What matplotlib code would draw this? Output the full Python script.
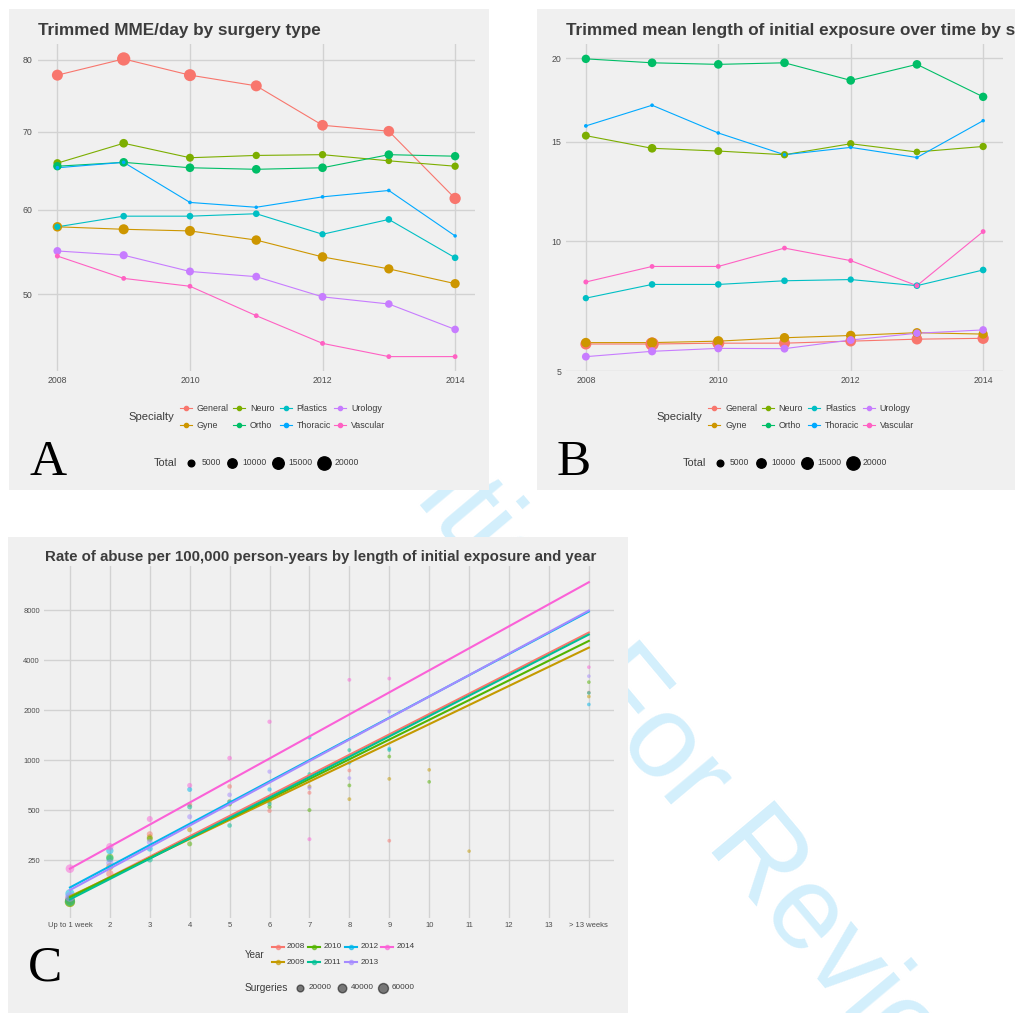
import matplotlib
matplotlib.use("Agg")
import matplotlib.pyplot as plt
from matplotlib.lines import Line2D
from matplotlib.patches import Rectangle
import numpy as np

W, H = 1015, 1013
BG = "#F0F0F0"
GRID = "#D2D2D2"
TXT = "#3C3C3C"
SANS = "Liberation Sans"

# ---- panels A and B: by specialty and year
years = [2008, 2009, 2010, 2011, 2012, 2013, 2014]
specialties = ["General", "Gyne", "Neuro", "Ortho", "Plastics", "Thoracic", "Urology", "Vascular"]
spec_colors = ["#F8766D", "#CD9600", "#7CAE00", "#00BE67", "#00BFC4", "#00A9FF", "#C77CFF", "#FF61C3"]

mme_general = [77.8, 80.1, 77.8, 76.3, 70.9, 70.1, 61.4]
mme_gyne = [57.9, 57.6, 57.4, 56.3, 54.3, 52.9, 51.2]
mme_neuro = [65.9, 68.5, 66.6, 66.9, 67.0, 66.2, 65.5]
mme_ortho = [65.5, 66.0, 65.3, 65.1, 65.3, 67.0, 66.8]
mme_plastics = [57.9, 59.2, 59.2, 59.5, 57.0, 58.8, 54.2]
mme_thoracic = [65.3, 66.0, 60.9, 60.3, 61.6, 62.4, 56.8]
mme_urology = [55.0, 54.5, 52.6, 52.0, 49.7, 48.9, 46.1]
mme_vascular = [54.4, 51.8, 50.9, 47.6, 44.6, 43.2, 43.2]

days_general = [5.9, 5.9, 5.93, 5.93, 6.0, 6.07, 6.1]
days_gyne = [5.95, 5.95, 6.0, 6.12, 6.2, 6.3, 6.25]
days_neuro = [15.35, 14.65, 14.5, 14.3, 14.9, 14.45, 14.75]
days_ortho = [19.95, 19.7, 19.6, 19.7, 18.6, 19.6, 17.6]
days_plastics = [7.6, 8.15, 8.15, 8.3, 8.35, 8.1, 8.75]
days_thoracic = [15.9, 17.1, 15.5, 14.3, 14.7, 14.15, 16.2]
days_urology = [5.47, 5.65, 5.75, 5.74, 6.04, 6.28, 6.4]
days_vascular = [8.25, 8.9, 8.9, 9.7, 9.15, 8.1, 10.45]

total_general = [13700, 20000, 16300, 13700, 12900, 12900, 14400]
total_gyne = [10200, 11500, 11500, 10200, 10200, 9600, 9600]
total_neuro = [7200, 8500, 7200, 6100, 6100, 5000, 6100]
total_ortho = [8000, 8500, 8500, 8500, 8500, 8500, 8000]
total_plastics = [4500, 5000, 5000, 5000, 4500, 5000, 5000]
total_thoracic = [1600, 1500, 1500, 1400, 1500, 1500, 1400]
total_urology = [7000, 7500, 7200, 7000, 7000, 6500, 6500]
total_vascular = [2800, 2600, 2600, 2600, 2700, 2600, 2600]

mme = [mme_general, mme_gyne, mme_neuro, mme_ortho, mme_plastics, mme_thoracic, mme_urology, mme_vascular]
days = [days_general, days_gyne, days_neuro, days_ortho, days_plastics, days_thoracic, days_urology, days_vascular]
totals = [total_general, total_gyne, total_neuro, total_ortho, total_plastics, total_thoracic, total_urology, total_vascular]
total_breaks = [5000, 10000, 15000, 20000]

# ---- panel C: rate of abuse by weeks of exposure
weeks = list(range(1, 15))
week_labels = ["Up to 1 week", "2", "3", "4", "5", "6", "7", "8", "9", "10", "11", "12", "13", "> 13 weeks"]
study_years = ["2008", "2009", "2010", "2011", "2012", "2013", "2014"]
year_colors = ["#F8766D", "#C49A00", "#53B400", "#00C094", "#00B6EB", "#A58AFF", "#FB61D7"]

rate_2008 = [145, 207, 358, 540, 694, 495, 636, 866, 327, None, None, None, None, 2554]
rate_2009 = [140, 228, 343, 381, 563, 563, 694, 582, 771, 874, 283, None, None, 2416]
rate_2010 = [140, 260, 336, 313, 543, 523, 500, 704, 1051, 740, None, None, None, 2949]
rate_2011 = [142, 255, 252, 523, 404, 545, 823, 1149, 1150, None, None, None, None, 2540]
rate_2012 = [157, 285, 293, 666, 560, 666, 1367, 964, 1174, None, None, None, None, 2164]
rate_2013 = [150, 240, 321, 456, 618, 853, 680, 779, 1961, None, None, None, None, 3204]
rate_2014 = [222, 301, 442, 704, 1028, 1703, 334, 3045, 3100, None, None, None, None, 3630]
rates = [rate_2008, rate_2009, rate_2010, rate_2011, rate_2012, rate_2013, rate_2014]

surgeries = [55000, 25000, 13000, 7000, 5000, 3500, 2500, 2000, 1800, 1500, 1200, 1000, 900, 1500]
surgeries_week1 = [60000, 65000, 65000, 60000, 48000, 55000, 40000]
surgery_breaks = [20000, 40000, 60000]

# fitted (log-linear) rate at first and last bin, per year
fit_first = [149, 151, 149, 145, 171, 165, 222]
fit_last = [5866, 4759, 5224, 5707, 7850, 7955, 11790]

plt.rcParams["font.family"] = SANS


def fx(x):
    return x / W


def fy(y):
    return 1 - y / H


def add_axes(l, t, r, b):
    ax = fig.add_axes([fx(l), fy(b), (r - l) / W, (b - t) / H])
    ax.set_facecolor(BG)
    for s in ax.spines.values():
        s.set_visible(False)
    ax.grid(True, color=GRID, lw=1.0)
    ax.set_axisbelow(True)
    ax.tick_params(length=0, colors="#4D4D4D")
    return ax


def total_ms(t):
    return 13.3 * np.sqrt(t / 20000) * 0.72


def surg_ms(s):
    return (2.5 + 7.5 * np.sqrt(s / 60000)) * 0.72


fig = plt.figure(figsize=(W / 100, H / 100), dpi=100)

# watermark behind the panels
fig.text(fx(652), fy(735), "Confidential: For Review Only", rotation=-50, rotation_mode="anchor",
         ha="center", va="center", fontsize=85, color="#D3EFFC", zorder=-3)

for (l, t, r, b) in [(9, 9, 489, 490), (537, 9, 1015, 490), (8, 537, 628, 1013)]:
    fig.add_artist(Rectangle((fx(l), fy(b)), (r - l) / W, (b - t) / H, transform=fig.transFigure,
                             facecolor=BG, edgecolor="none", zorder=-1))

sq = (lambda v: np.sqrt(np.clip(v, 0, None)), np.square)

# ---- A
axA = add_axes(37.5, 44, 475, 371.5)
for i in range(len(specialties)):
    axA.plot(years, mme[i], color=spec_colors[i], lw=0.8, zorder=2)
for i in range(len(specialties)):
    axA.scatter(years, mme[i], s=[total_ms(t) ** 2 for t in totals[i]], color=spec_colors[i],
                lw=0, zorder=3)
axA.set_yscale("function", functions=sq)
axA.set_ylim(41.65, 82.25)
axA.set_yticks([50, 60, 70, 80])
axA.set_xlim(2007.7, 2014.3)
axA.set_xticks([2008, 2010, 2012, 2014])
axA.tick_params(labelsize=6.3, pad=3.5)

# ---- B
axB = add_axes(566, 44, 1003, 371.5)
for i in range(len(specialties)):
    axB.plot(years, days[i], color=spec_colors[i], lw=0.8, zorder=2)
for i in range(len(specialties)):
    axB.scatter(years, days[i], s=[total_ms(t) ** 2 for t in totals[i]], color=spec_colors[i],
                lw=0, zorder=3)
axB.set_yscale("function", functions=sq)
axB.set_ylim(4.985, 20.91)
axB.set_yticks([5, 10, 15, 20])
axB.set_xlim(2007.7, 2014.3)
axB.set_xticks([2008, 2010, 2012, 2014])
axB.tick_params(labelsize=6.3, pad=3.5)

# ---- C
axC = add_axes(44, 566, 614, 918)
for i in range(len(study_years)):
    xs, ys, ss = [], [], []
    for j, w in enumerate(weeks):
        if rates[i][j] is None:
            continue
        xs.append(w)
        ys.append(rates[i][j])
        n = surgeries_week1[i] if j == 0 else surgeries[j]
        ss.append(surg_ms(n) ** 2)
    axC.scatter(xs, ys, s=ss, color=year_colors[i], alpha=0.5, lw=0, zorder=2)
for i in range(len(study_years)):
    axC.plot([weeks[0], weeks[-1]], [fit_first[i], fit_last[i]], color=year_colors[i], lw=1.5, zorder=3)
axC.set_yscale("log", base=2)
axC.set_ylim(112, 14760)
axC.set_yticks([250, 500, 1000, 2000, 4000, 8000])
axC.set_yticklabels(["250", "500", "1000", "2000", "4000", "8000"])
axC.yaxis.set_minor_locator(matplotlib.ticker.NullLocator())
axC.set_xlim(0.35, 14.63)
axC.set_xticks(weeks)
axC.set_xticklabels(week_labels)
axC.tick_params(labelsize=5.5, pad=3)

# ---- titles
fig.text(fx(38), fy(35.3), "Trimmed MME/day by surgery type", fontsize=12.3, fontweight="bold",
         color=TXT, va="baseline")
fig.text(fx(566.5), fy(35.3), "Trimmed mean length of initial exposure over time by surgery type",
         fontsize=12.3, fontweight="bold", color=TXT, va="baseline")
fig.text(fx(45), fy(560.7), "Rate of abuse per 100,000 person-years by length of initial exposure and year",
         fontsize=10.8, fontweight="bold", color=TXT, va="baseline")

# ---- panel letters
for letter, x, y in [("A", 29, 475), ("B", 557, 475), ("C", 28, 980)]:
    fig.text(fx(x), fy(y), letter, fontsize=37, family="Liberation Serif", color="black", va="baseline")


# ---- legends (ggplot style: title on the left)
def key(x, y, color, lw, ms, half=6, alpha=1.0):
    fig.add_artist(Line2D([fx(x - half), fx(x + half)], [fy(y), fy(y)], color=color, lw=lw,
                          transform=fig.transFigure))
    fig.add_artist(Line2D([fx(x)], [fy(y)], marker="o", ms=ms, color=color, lw=0, alpha=alpha,
                          transform=fig.transFigure))


for dx in [0, 528.5]:
    fig.text(fx(128 + dx), fy(416.5), "Specialty", fontsize=8.1, color=TXT, va="center")
    col_x = [185.7, 239, 285.7, 340]
    rows = [408.3, 425]
    for i, name in enumerate(specialties):
        cx = col_x[i // 2] + dx
        cy = rows[i % 2]
        key(cx, cy, spec_colors[i], 0.8, 3.0)
        fig.text(fx(cx + 11), fy(cy), name, fontsize=6.4, color=TXT, va="center")
    fig.text(fx(154 + dx), fy(462.7), "Total", fontsize=7.9, color=TXT, va="center")
    dot_x = [191, 232.3, 278.3, 324]
    for t, x in zip(total_breaks, dot_x):
        fig.add_artist(Line2D([fx(x + dx)], [fy(462.7)], marker="o", ms=total_ms(t), color="black",
                              lw=0, transform=fig.transFigure))
        fig.text(fx(x + dx + 10.5), fy(462.7), str(t), fontsize=6.2, color=TXT, va="center")

fig.text(fx(245), fy(954.5), "Year", fontsize=7, color=TXT, va="center")
col_x = [277.5, 314, 351, 387.3]
rows = [946.7, 962]
for i, yr in enumerate(study_years):
    cx = col_x[i // 2]
    cy = rows[i % 2]
    key(cx, cy, year_colors[i], 1.5, 3.0, alpha=0.6)
    fig.text(fx(cx + 9.3), fy(cy), yr, fontsize=5.9, color=TXT, va="center")

fig.text(fx(245), fy(987.7), "Surgeries", fontsize=7.3, color=TXT, va="center")
for n, x in zip(surgery_breaks, [300, 341.7, 382.7]):
    fig.add_artist(Line2D([fx(x)], [fy(987.7)], marker="o", ms=surg_ms(n), color="black", alpha=0.5,
                          lw=0, transform=fig.transFigure))
    fig.text(fx(x + 9), fy(987.7), str(n), fontsize=5.9, color=TXT, va="center")

fig.savefig("out.png", dpi=100, facecolor="white")
